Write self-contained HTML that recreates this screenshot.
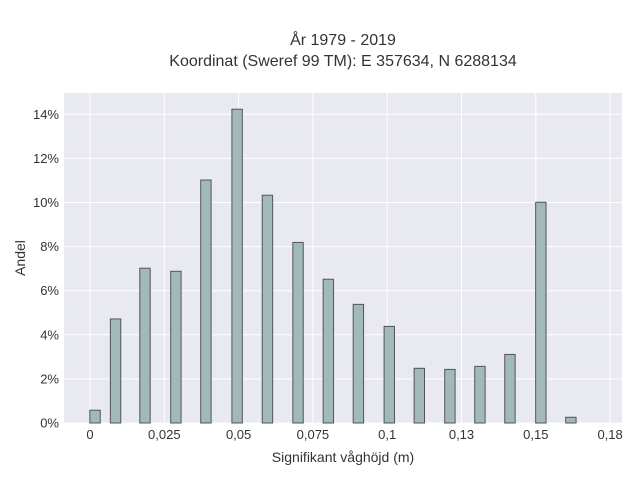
<!DOCTYPE html>
<html><head><meta charset="utf-8"><style>
html,body{margin:0;padding:0;background:#fff;}
svg{display:block;font-family:"Liberation Sans",sans-serif;}
</style></head><body>
<svg id="chart" width="640" height="480" xmlns="http://www.w3.org/2000/svg">
<text x="343" y="45" text-anchor="middle" font-size="16" fill="#333">År 1979 - 2019</text>
<text x="343" y="66" text-anchor="middle" font-size="16" fill="#333">Koordinat (Sweref 99 TM): E 357634, N 6288134</text>
<rect x="64" y="93" width="558" height="330" fill="#e9e9f1"/>
<g id="grid"></g>
<g id="bars"></g>
<g id="labels"></g>
<text x="343" y="462" text-anchor="middle" font-size="14" fill="#333">Signifikant våghöjd (m)</text>
<text transform="translate(25,258) rotate(-90)" text-anchor="middle" font-size="14" fill="#333">Andel</text>
</svg>
<script>
const binCenters = [0.0017, 0.0086, 0.0185, 0.0289, 0.039, 0.0495, 0.0597, 0.07, 0.0802, 0.0903, 0.1007, 0.1108, 0.1211, 0.1312, 0.1413, 0.1517, 0.1618];
const shares = [0.58, 4.72, 7.02, 6.88, 11.02, 14.23, 10.33, 8.19, 6.52, 5.38, 4.38, 2.48, 2.43, 2.57, 3.11, 10.01, 0.26];
const xTicks = [0, 0.025, 0.05, 0.075, 0.1, 0.125, 0.15, 0.175];
const xTickLabels = ["0", "0,025", "0,05", "0,075", "0,1", "0,13", "0,15", "0,18"];
const yTicks = [0, 2, 4, 6, 8, 10, 12, 14];
const yTickLabels = ["0%", "2%", "4%", "6%", "8%", "10%", "12%", "14%"];

const NS = "http://www.w3.org/2000/svg";
const xScale = v => 90 + v * 2972;
const yScale = v => 423 - v * 22.05;
const barW = 10.4;
function mk(tag, attrs, parent){const e=document.createElementNS(NS,tag);for(const k in attrs)e.setAttribute(k,attrs[k]);parent.appendChild(e);return e;}
const grid=document.getElementById('grid'), bars=document.getElementById('bars'), labels=document.getElementById('labels');
xTicks.forEach((t,i)=>{
  const x=xScale(t);
  const l=mk('line',{x1:x,x2:x,y1:93,y2:423,stroke:'#fff','stroke-width':1},grid);
  
  
  const tx=mk('text',{x:x,y:439,'text-anchor':'middle','font-size':13,fill:'#333'},labels);
  tx.textContent=xTickLabels[i];
  
  
});
yTicks.forEach((t,i)=>{
  const y=yScale(t);
  const l=mk('line',{x1:64,x2:622,y1:y,y2:y,stroke:'#fff','stroke-width':1},grid);
  
  
  const tx=mk('text',{x:59,y:y+4.5,'text-anchor':'end','font-size':13,fill:'#333'},labels);
  tx.textContent=yTickLabels[i];
  
  
});
binCenters.forEach((c,i)=>{
  const x=xScale(c)-barW/2, y=yScale(shares[i]);
  const r=mk('rect',{x:x,y:y,width:barW,height:423-y,fill:'#a1b9b9',stroke:'#555','stroke-width':1},bars);
  
  
});
</script>
</body></html>
